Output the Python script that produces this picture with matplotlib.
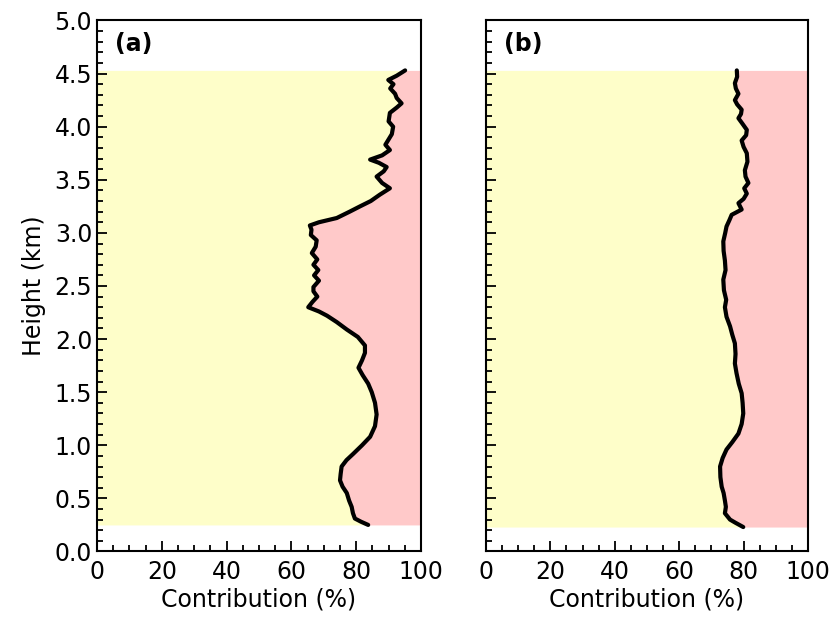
import matplotlib.pyplot as plt
from matplotlib.ticker import MultipleLocator

# panel (a): height (km) and contribution (%)
height_a = [0.25, 0.28, 0.31, 0.36, 0.42, 0.48, 0.55, 0.61, 0.67, 0.73, 0.80, 0.86,
            0.92, 1.00, 1.08, 1.18, 1.29, 1.40, 1.50, 1.58, 1.66, 1.73, 1.80, 1.87,
            1.94, 2.02, 2.09, 2.16, 2.22, 2.26, 2.30, 2.35, 2.40, 2.45, 2.49, 2.55,
            2.60, 2.65, 2.70, 2.75, 2.81, 2.87, 2.93, 2.98, 3.03, 3.07, 3.10, 3.14,
            3.20, 3.25, 3.30, 3.36, 3.42, 3.47, 3.53, 3.58, 3.62, 3.66, 3.69, 3.73,
            3.78, 3.83, 3.87, 3.93, 4.00, 4.05, 4.13, 4.18, 4.22, 4.27, 4.31, 4.36,
            4.40, 4.44, 4.48, 4.53]
contrib_a = [83.7, 81.5, 79.6, 79.0, 78.6, 77.8, 77.1, 75.8, 75.0, 75.2, 75.5, 77.0,
             79.1, 81.8, 84.3, 85.8, 86.3, 85.8, 84.8, 83.7, 82.0, 80.7, 81.8, 82.7,
             82.7, 80.5, 77.1, 74.0, 71.0, 68.5, 65.2, 66.5, 68.0, 66.8, 66.8, 68.5,
             67.0, 68.3, 66.8, 68.0, 66.3, 67.5, 67.8, 66.0, 66.2, 65.7, 68.5, 74.0,
             78.0, 81.2, 84.5, 87.3, 90.4, 88.0, 86.3, 88.5, 89.4, 87.0, 84.3, 88.0,
             90.4, 89.0, 89.8, 91.0, 91.4, 90.0, 90.4, 92.5, 94.0, 92.5, 92.0, 90.5,
             91.5, 89.9, 92.5, 95.1]

# panel (b)
height_b = [0.23, 0.27, 0.30, 0.36, 0.42, 0.48, 0.55, 0.61, 0.70, 0.80, 0.88, 0.96,
            1.03, 1.11, 1.20, 1.30, 1.40, 1.49, 1.58, 1.68, 1.77, 1.86, 1.96, 2.04,
            2.12, 2.21, 2.30, 2.37, 2.46, 2.56, 2.65, 2.74, 2.83, 2.92, 3.00, 3.06,
            3.12, 3.17, 3.22, 3.28, 3.32, 3.37, 3.42, 3.47, 3.53, 3.59, 3.67, 3.75,
            3.81, 3.87, 3.92, 3.97, 4.03, 4.08, 4.12, 4.16, 4.21, 4.25, 4.31, 4.36,
            4.41, 4.47, 4.53]
contrib_b = [79.9, 77.5, 75.8, 74.2, 74.5, 74.2, 73.8, 73.2, 72.8, 72.7, 73.5, 74.7,
             76.5, 78.4, 79.4, 79.9, 79.7, 79.4, 78.5, 77.8, 77.3, 77.5, 77.3, 76.5,
             75.8, 74.7, 74.2, 74.6, 73.9, 73.7, 74.4, 74.2, 73.8, 73.7, 74.3, 74.7,
             75.6, 76.3, 79.4, 78.4, 80.0, 81.0, 80.2, 81.5, 80.6, 80.4, 81.2, 81.0,
             80.0, 79.4, 80.8, 81.0, 79.6, 78.4, 79.2, 79.4, 78.0, 77.3, 78.4, 77.6,
             77.3, 78.0, 77.9]

YELLOW = '#fefec9'
PINK = '#ffc9c9'

fig = plt.figure(figsize=(8.34, 6.17), dpi=100)
ax_a = fig.add_axes([0.1163, 0.1062, 0.3885, 0.8606])
ax_b = fig.add_axes([0.5827, 0.1062, 0.3861, 0.8606])

for ax, h, c, tag in [(ax_a, height_a, contrib_a, '(a)'), (ax_b, height_b, contrib_b, '(b)')]:
    ax.fill_betweenx(h, 0, c, color=YELLOW, lw=0)
    ax.fill_betweenx(h, c, 100, color=PINK, lw=0)
    ax.plot(c, h, color='black', lw=3.0, solid_capstyle='round', solid_joinstyle='round')
    ax.set_xlim(0, 100)
    ax.set_ylim(0, 5)
    ax.xaxis.set_major_locator(MultipleLocator(20))
    ax.xaxis.set_minor_locator(MultipleLocator(5))
    ax.yaxis.set_major_locator(MultipleLocator(0.5))
    ax.yaxis.set_minor_locator(MultipleLocator(0.1))
    ax.tick_params(which='both', direction='in', width=1.3, labelsize=17)
    ax.tick_params(which='major', length=7)
    ax.tick_params(which='minor', length=4)
    ax.tick_params(axis='x', which='major', pad=6)
    for s in ax.spines.values():
        s.set_linewidth(1.5)
    ax.set_xlabel('Contribution (%)', fontsize=17, labelpad=3)
    ax.text(0.055, 0.955, tag, transform=ax.transAxes, fontsize=17,
            fontweight='bold', va='center', ha='left')

ax_a.set_ylabel('Height (km)', fontsize=17, labelpad=6)
ax_b.tick_params(axis='y', labelleft=False)

plt.savefig('out.png', dpi=100)
